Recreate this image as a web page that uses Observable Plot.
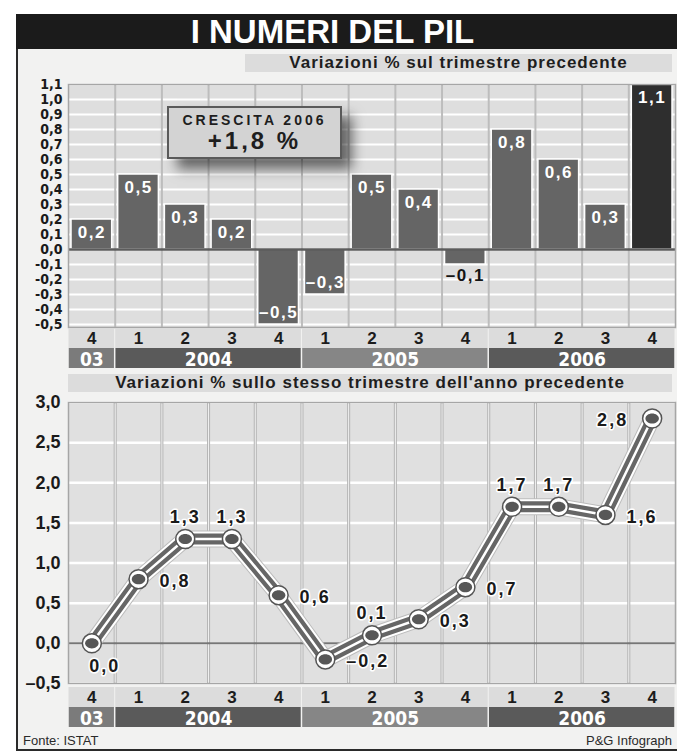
<!DOCTYPE html>
<html>
<head>
<meta charset="utf-8">
<script src="https://cdn.jsdelivr.net/npm/d3@7"></script>
<script src="https://cdn.jsdelivr.net/npm/@observablehq/plot@0.6"></script>
<style>
  body { margin: 0; background: #fff; }
  #page { position: relative; width: 677px; height: 753px; overflow: hidden; background: #fff;
          font-family: "Liberation Sans", Arial, sans-serif; }
  .abs { position: absolute; }
  .frame { left: 16px; top: 14px; width: 661px; height: 737px; background: #f2f2f1;
           border-left: 2px solid #2a2a2a; border-bottom: 2px solid #2a2a2a; box-sizing: border-box; }
  .titlebar { left: 16px; top: 14px; width: 661px; height: 35px; background: #1b1b1b; }
  .title { left: 0; top: 14px; width: 665px; height: 35px; line-height: 35px; text-align: center;
           color: #fff; font-weight: bold; font-size: 33px; }
  .sub { background: #dcdcdc; height: 18px; line-height: 18px; text-align: center; color: #1e1e1e;
         font-weight: bold; font-size: 17px; letter-spacing: 1px; white-space: nowrap; }
  .growth { left: 167px; top: 106px; width: 175px; height: 53px; background: #d3d3d3;
            border: 2px solid #5a5a5a; box-sizing: border-box; text-align: center; color: #1e1e1e;
            box-shadow: 10px 10px 12px rgba(0,0,0,0.55); font-weight: bold; }
  .growth .l1 { font-size: 14px; letter-spacing: 3px; margin-top: 4px; line-height: 16px; }
  .growth .l2 { font-size: 24px; letter-spacing: 3px; line-height: 26px; }
  .foot { font-size: 13px; color: #2a2a2a; top: 733px; }
</style>
</head>
<body>
<div id="page">
  <div class="abs frame"></div>
  <div class="abs titlebar"></div>
  <div class="abs title" id="title"></div>
  <div class="abs sub" id="sub1" style="left:245px;top:54px;width:427px;"></div>
  <div id="topChart" class="abs" style="left:0;top:76px;"></div>
  <div id="topStrip" class="abs" style="left:0;top:328px;"></div>
  <div class="abs growth"><div class="l1" id="g1"></div><div class="l2" id="g2"></div></div>
  <div class="abs sub" id="sub2" style="left:68px;top:374px;width:604px;"></div>
  <div id="bottomChart" class="abs" style="left:0;top:394px;"></div>
  <div id="bottomStrip" class="abs" style="left:0;top:687px;"></div>
  <div class="abs foot" id="src" style="left:23px;"></div>
  <div class="abs foot" id="credit" style="right:5px;"></div>
</div>
<script>
// ---------- data ----------
const quarterLabels = ["4", "1", "2", "3", "4", "1", "2", "3", "4", "1", "2", "3", "4"];
const quarterYears  = ["03", "2004", "2004", "2004", "2004", "2005", "2005", "2005", "2005", "2006", "2006", "2006", "2006"];
const qoqChange = [0.2, 0.5, 0.3, 0.2, -0.5, -0.3, 0.5, 0.4, -0.1, 0.8, 0.6, 0.3, 1.1];
const yoyChange = [0.0, 0.8, 1.3, 1.3, 0.6, -0.2, 0.1, 0.3, 0.7, 1.7, 1.7, 1.6, 2.8];
const topYTicks = [1.1, 1.0, 0.9, 0.8, 0.7, 0.6, 0.5, 0.4, 0.3, 0.2, 0.1, 0.0, -0.1, -0.2, -0.3, -0.4, -0.5];
const bottomYTicks = [3.0, 2.5, 2.0, 1.5, 1.0, 0.5, 0.0, -0.5];
const titleText = "I NUMERI DEL PIL";
const subtitleTop = "Variazioni % sul trimestre precedente";
const subtitleBottom = "Variazioni % sullo stesso trimestre dell'anno precedente";
const growthLabel = "CRESCITA 2006";
const growthValue = "+1,8 %";
const sourceText = "Fonte: ISTAT";
const creditText = "P&G Infograph";

// ---------- text ----------
document.getElementById("title").textContent = titleText;
document.getElementById("sub1").textContent = subtitleTop;
document.getElementById("sub2").textContent = subtitleBottom;
document.getElementById("g1").textContent = growthLabel;
document.getElementById("g2").textContent = growthValue;
document.getElementById("src").textContent = sourceText;
document.getElementById("credit").textContent = creditText;

// ---------- helpers ----------
const SANS = '"Liberation Sans", Arial, sans-serif';
const NARROW = '"Liberation Sans Narrow", "Arial Narrow", "DejaVu Sans Condensed", sans-serif';
const W = 677, ML = 68, MR = 2;
const idx = d3.range(quarterLabels.length);
const last = idx.length - 1;
const xDomain = [-0.5, idx.length - 0.5];
const boundaries = idx.slice(1).map(i => i - 0.5);
const comma = v => Math.abs(v).toFixed(1).replace(".", ",");
const topTick = v => (v < 0 ? "-" : "") + comma(v);
const valueLabel = v => (v < 0 ? "\u2013" : "") + comma(v);
const years = d3.groups(idx, i => quarterYears[i]).map(([label, is]) => ({label, first: d3.min(is), last: d3.max(is)}));
const yearShade = {"03": "#7b7b7b", "2004": "#5a5a5a", "2005": "#868686", "2006": "#5a5a5a"};

function spacing(svg, px) {
  d3.select(svg).selectAll('g[aria-label="text"] text').style("letter-spacing", px + "px");
  return svg;
}

// ---------- top chart: quarter on quarter ----------
const topSvg = Plot.plot({
  width: W, height: 259, marginLeft: ML, marginRight: MR, marginTop: 8, marginBottom: 8,
  x: {domain: xDomain, axis: null},
  y: {domain: [-0.52, 1.1], ticks: topYTicks, tickFormat: topTick, tickSize: 0, tickPadding: 6, label: null},
  style: {background: "transparent", overflow: "visible", fontFamily: NARROW, fontSize: "14px", fontWeight: "bold", color: "#1a1a1a"},
  marks: [
    Plot.frame({fill: "#dedede"}),
    Plot.ruleY(topYTicks, {stroke: "white", strokeWidth: 2}),
    Plot.ruleX(boundaries, {stroke: "#bdbdbd", strokeWidth: 2}),
    Plot.rectY(idx, {filter: i => i !== last, x1: i => i - 0.5, x2: i => i + 0.5, y1: 0, y2: i => qoqChange[i],
      insetLeft: 3, insetRight: 3, fill: "#656565", stroke: "white", strokeWidth: 1.5}),
    Plot.rectY(idx, {filter: i => i === last, x1: i => i - 0.5, x2: i => i + 0.5, y1: 0, y2: i => qoqChange[i],
      insetLeft: 3, insetRight: 3, fill: "#2e2e2e", stroke: "white", strokeWidth: 1.5}),
    Plot.ruleY([0], {stroke: "#5c5c5c", strokeWidth: 2.5}),
    Plot.text(idx, {filter: i => qoqChange[i] >= 0, x: i => i, y: i => qoqChange[i], text: i => valueLabel(qoqChange[i]),
      dy: 13, fill: "white", fontFamily: SANS, fontSize: 17, fontWeight: "bold"}),
    Plot.text(idx, {filter: i => qoqChange[i] <= -0.2, x: i => i, y: i => qoqChange[i], text: i => valueLabel(qoqChange[i]),
      dy: -12, fill: "white", fontFamily: SANS, fontSize: 17, fontWeight: "bold"}),
    Plot.text(idx, {filter: i => qoqChange[i] < 0 && qoqChange[i] > -0.2, x: i => i, y: i => qoqChange[i], text: i => valueLabel(qoqChange[i]),
      dy: 11, fill: "#151515", fontFamily: SANS, fontSize: 17, fontWeight: "bold"}),
    Plot.frame({stroke: "#a6a6a6", strokeWidth: 1.5})
  ]
});
document.getElementById("topChart").appendChild(spacing(topSvg, 1.5));

// ---------- quarter / year strips ----------
function makeStrip(h) {
  return Plot.plot({
    width: W, height: h, marginLeft: ML, marginRight: MR, marginTop: 0, marginBottom: 0,
    x: {domain: xDomain, axis: null},
    y: {type: "band", domain: ["q", "yr"], padding: 0, axis: null},
    style: {background: "transparent", overflow: "visible"},
    marks: [
      Plot.barX(years, {x1: d => d.first - 0.5, x2: d => d.last + 0.5, y: () => "q", fill: "#dcdcdc", insetLeft: 0.5, insetRight: 0.5}),
      Plot.barX(years, {x1: d => d.first - 0.5, x2: d => d.last + 0.5, y: () => "yr", fill: d => yearShade[d.label], insetLeft: 0.75, insetRight: 0.75}),
      Plot.text(idx, {x: i => i, y: () => "q", text: i => quarterLabels[i], dy: 0, fill: "#1c1c1c",
        fontFamily: SANS, fontSize: 17, fontWeight: "bold"}),
      Plot.text(years, {x: d => (d.first + d.last) / 2, y: () => "yr", text: d => d.label, dy: 1, fill: "white",
        fontFamily: NARROW, fontSize: 19, fontWeight: "bold"})
    ]
  });
}
document.getElementById("topStrip").appendChild(makeStrip(40));

// ---------- bottom chart: year on year ----------
const ellipse = {
  draw(ctx, size) {
    const r = Math.sqrt(size / Math.PI), rx = r * 1.2, ry = r * 0.9, k = 0.5523;
    ctx.moveTo(rx, 0);
    ctx.bezierCurveTo(rx, ry * k, rx * k, ry, 0, ry);
    ctx.bezierCurveTo(-rx * k, ry, -rx, ry * k, -rx, 0);
    ctx.bezierCurveTo(-rx, -ry * k, -rx * k, -ry, 0, -ry);
    ctx.bezierCurveTo(rx * k, -ry, rx, -ry * k, rx, 0);
    ctx.closePath();
  }
};
const place = {above: [2, 3, 6, 9, 10], below: [0], left: [12]};
const isRight = i => !place.above.includes(i) && !place.below.includes(i) && !place.left.includes(i);
const labelStyle = {x: i => i, y: i => yoyChange[i], text: i => valueLabel(yoyChange[i]), fill: "#1a1a1a",
  stroke: "white", strokeWidth: 3, paintOrder: "stroke", fontFamily: SANS, fontSize: 18, fontWeight: "bold"};

const bottomSvg = Plot.plot({
  width: W, height: 299, marginLeft: ML, marginRight: MR, marginTop: 8, marginBottom: 10,
  x: {domain: xDomain, axis: null},
  y: {domain: [-0.5, 3.0], ticks: bottomYTicks, tickFormat: valueLabel, tickSize: 0, tickPadding: 8, label: null},
  style: {background: "transparent", overflow: "visible", fontFamily: SANS, fontSize: "18px", fontWeight: "bold", color: "#1a1a1a"},
  marks: [
    Plot.frame({fill: "#e0e0e0"}),
    Plot.ruleY(bottomYTicks, {stroke: "white", strokeWidth: 2.5}),
    Plot.ruleX(boundaries, {stroke: "#b3b3b3", strokeWidth: 3}),
    Plot.ruleX(boundaries, {stroke: "#f4f4f4", strokeWidth: 1}),
    Plot.ruleY([0], {stroke: "#767676", strokeWidth: 2}),
    Plot.frame({stroke: "#a6a6a6", strokeWidth: 1.5}),
    Plot.line(idx, {x: i => i, y: i => yoyChange[i], stroke: "#bcbcbc", strokeWidth: 17, strokeLinejoin: "round"}),
    Plot.line(idx, {x: i => i, y: i => yoyChange[i], stroke: "white", strokeWidth: 15, strokeLinejoin: "round"}),
    Plot.line(idx, {x: i => i, y: i => yoyChange[i], stroke: "#666", strokeWidth: 11, strokeLinejoin: "round"}),
    Plot.line(idx, {x: i => i, y: i => yoyChange[i], stroke: "white", strokeWidth: 2.5, strokeLinejoin: "round"}),
    Plot.dot(idx, {x: i => i, y: i => yoyChange[i], r: 9.5, fill: "white", stroke: "#555", strokeWidth: 1.5}),
    Plot.dot(idx, {x: i => i, y: i => yoyChange[i], r: 5.6, symbol: ellipse, fill: "#575757", stroke: "none"}),
    Plot.text(idx, {...labelStyle, filter: i => place.above.includes(i), dy: -22}),
    Plot.text(idx, {...labelStyle, filter: i => place.below.includes(i), dx: 13, dy: 23}),
    Plot.text(idx, {...labelStyle, filter: i => place.left.includes(i), textAnchor: "end", dx: -24, dy: 2}),
    Plot.text(idx, {...labelStyle, filter: isRight, textAnchor: "start", dx: 21, dy: 2})
  ]
});
document.getElementById("bottomChart").appendChild(spacing(bottomSvg, 2));
document.getElementById("bottomStrip").appendChild(makeStrip(40));
</script>
</body>
</html>
